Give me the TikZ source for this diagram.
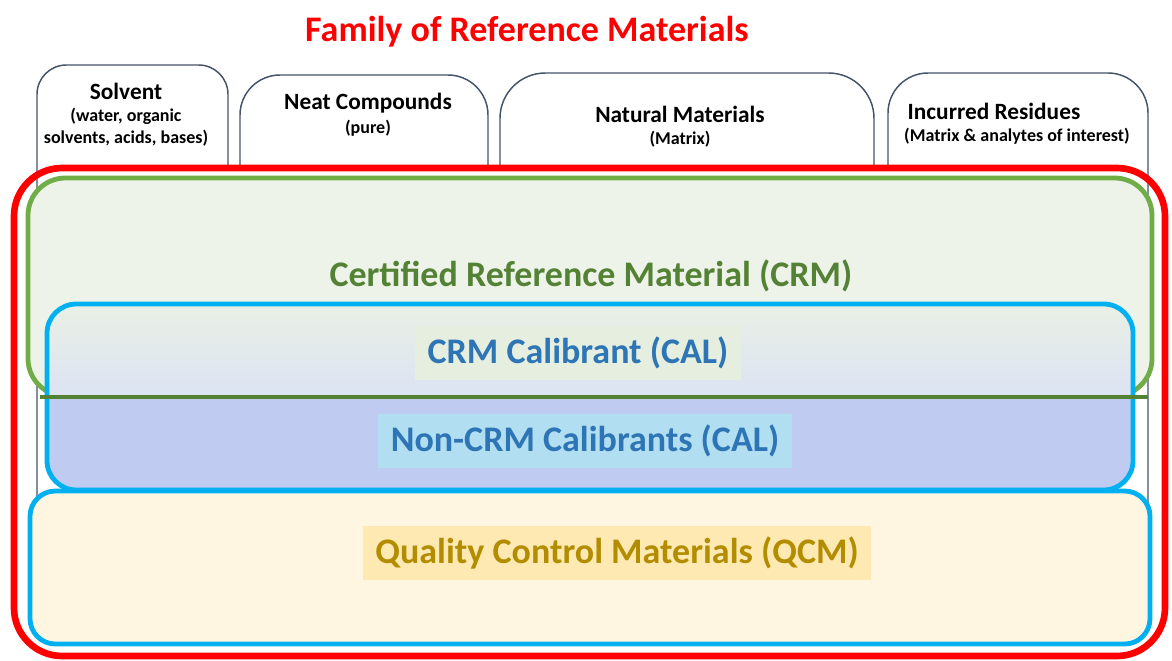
\documentclass[tikz,border=0pt]{standalone}
\usepackage{fontspec}
\setmainfont{Carlito}
\usepackage{xcolor}
\usepackage{tikz}
\usetikzlibrary{positioning}

\definecolor{tabgray}{HTML}{44546A}
\definecolor{famred}{HTML}{FF0000}
\definecolor{crmgreen}{HTML}{70AD47}
\definecolor{crmdark}{HTML}{548235}
\definecolor{crmfill}{HTML}{EEF3EA}
\definecolor{calblue}{HTML}{00B0F0}
\definecolor{caltext}{HTML}{2E75B6}
\definecolor{caltop}{HTML}{E9F0E4}
\definecolor{calbot}{HTML}{DCE3F4}
\definecolor{noncalfill}{HTML}{BFCBF0}
\definecolor{calbg}{HTML}{E6EFDF}
\definecolor{noncalbg}{HTML}{B2DEF1}
\definecolor{qcmfill}{HTML}{FFF6E2}
\definecolor{qcmtext}{HTML}{B38D00}
\definecolor{qcmbg}{HTML}{FFE9B3}

\begin{document}
\begin{tikzpicture}[x=0.75pt, y=-0.75pt, node distance=3pt]
    \tikzstyle{tab} = [draw=tabgray, line width=1.1pt]
    \tikzstyle{tabhead} = [inner sep=0pt, font=\fontsize{17.5}{20}\selectfont\bfseries, text=black]
    \tikzstyle{tabsub} = [inner sep=0pt, font=\fontsize{13.5}{17}\selectfont\bfseries, text=black, align=center]
    \tikzstyle{biglabel} = [inner xsep=9.5pt, inner ysep=0pt, minimum height=40pt, font=\fontsize{27}{32}\selectfont\bfseries]

    % Canvas
    \path[use as bounding box, fill=white] (0,0) rectangle (1172,661);

    % Title
    \node [biglabel, text=famred] (title) at (527,32) {Family of Reference Materials};

    % Tabs - top row
    \draw [tab, rounded corners=22pt] (37,600) -- (37,65) -- (228,65) -- (228,168);
    \draw [tab, rounded corners=30pt] (240,168) -- (240,75) -- (488,75) -- (488,168);
    \draw [tab, rounded corners=34pt] (500,168) -- (500,73) -- (874,73) -- (874,168);
    \draw [tab, rounded corners=30pt] (888,168) -- (888,73) -- (1148,73) -- (1148,600);

    \node [tabhead] (solvent) at (126,91) {Solvent};
    \node [tabsub, below=6pt of solvent] (solventsub) {(water, organic\\solvents, acids, bases)};
    \node [tabhead] (neat) at (368,103) {Neat Compounds};
    \node [tabsub, below=5pt of neat] (neatsub) {(pure)};
    \node [tabhead] (natural) at (680,114) {Natural Materials};
    \node [tabsub, below=6pt of natural] (naturalsub) {(Matrix)};
    \node [tabhead] (incurred) at (994,111) {Incurred Residues};
    \node [tabsub] (incurredsub) at (1017,136) {(Matrix \& analytes of interest)};

    % Family box (red)
    \draw [famred, line width=5pt, rounded corners=36pt] (14,168) rectangle (1165,656);

    % CRM box (green)
    \draw [crmgreen, fill=crmfill, line width=3.6pt, rounded corners=28pt] (28,178) rectangle (1152,396);

    % Calibrant box (blue), upper part shaded
    \fill [noncalfill, rounded corners=22pt] (47,304) rectangle (1133,490);
    \begin{scope}
        \clip [rounded corners=22pt] (47,304) rectangle (1133,490);
        \shade [top color=caltop, bottom color=calbot] (47,304) rectangle (1133,397);
    \end{scope}
    \draw [calblue, line width=3.6pt, rounded corners=22pt] (47,304) rectangle (1133,490);
    \draw [crmdark, line width=3.3pt] (40,397) -- (1148,397);

    % QCM box (blue)
    \draw [calblue, fill=qcmfill, line width=3.6pt, rounded corners=19pt] (30,491) rectangle (1150,644);

    % Labels
    \node [biglabel, text=crmdark] (crm) at (591,276) {Certified Reference Material (CRM)};
    \node [biglabel, text=caltext, fill=calbg] (cal) at (578,353) {CRM Calibrant (CAL)};
    \node [biglabel, text=caltext, fill=noncalbg] (noncal) at (585,441) {Non-CRM Calibrants (CAL)};
    \node [biglabel, text=qcmtext, fill=qcmbg] (qcm) at (617,553) {Quality Control Materials (QCM)};
\end{tikzpicture}
\end{document}
